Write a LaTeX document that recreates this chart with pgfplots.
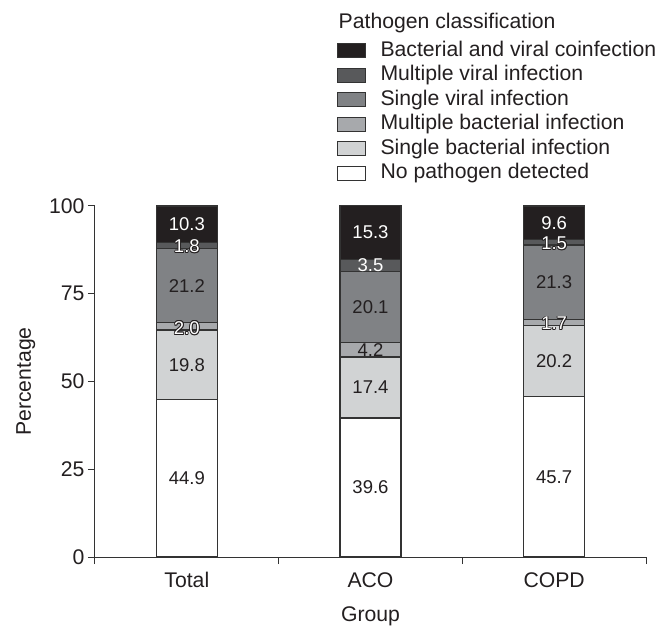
\documentclass[border=0pt]{standalone}
\usepackage{pgfplots}
\pgfplotsset{compat=1.18}
\usepackage{fontspec}
\setmainfont{Liberation Sans}
\definecolor{c1}{HTML}{FFFFFF}
\definecolor{c2}{HTML}{D1D3D4}
\definecolor{c3}{HTML}{A7A9AC}
\definecolor{c4}{HTML}{808285}
\definecolor{c5}{HTML}{58595B}
\definecolor{c6}{HTML}{231F20}
\definecolor{edge}{HTML}{333333}
\definecolor{txt}{HTML}{231F20}
\newcommand\outl[1]{%
\rlap{\kern0.8pt\textcolor{txt}{#1}}%
\rlap{\kern-0.8pt\textcolor{txt}{#1}}%
\rlap{\raisebox{0.8pt}{\textcolor{txt}{#1}}}%
\rlap{\raisebox{-0.8pt}{\textcolor{txt}{#1}}}%
\rlap{\kern0.6pt\raisebox{0.6pt}{\textcolor{txt}{#1}}}%
\rlap{\kern-0.6pt\raisebox{0.6pt}{\textcolor{txt}{#1}}}%
\rlap{\kern0.6pt\raisebox{-0.6pt}{\textcolor{txt}{#1}}}%
\rlap{\kern-0.6pt\raisebox{-0.6pt}{\textcolor{txt}{#1}}}%
\textcolor{white}{#1}}
\newcommand\bigf{\fontsize{21.2}{25}\selectfont}
\pgfplotsset{
  mylegend/.style={legend image code/.code={\draw[##1, line width=1pt] (0pt,-7pt) rectangle (28pt,7pt);}},
  segstyle/.style={draw=edge, line width=1.2pt},
}
\begin{document}
\begin{tikzpicture}
\begin{axis}[name=ax, scale only axis, width=551pt, height=351pt,
  ybar stacked, bar width=61pt,
  xmin=-0.5, xmax=2.5, ymin=0, ymax=100,
  axis x line*=bottom, axis y line*=left,
  axis line style={edge, line width=1pt},
  tick align=outside, major tick length=7pt,
  tick style={edge, line width=1pt},
  xtick={-0.5,0.5,1.5,2.5}, xticklabels={},
  extra x ticks={0,1,2}, extra x tick labels={Total,ACO,COPD},
  extra x tick style={major tick length=0pt, xticklabel style={yshift=-12pt}},
  ytick={0,25,50,75,100},
  ticklabel style={font=\bigf, text=txt},
  /pgf/number format/assume math mode=true,
  xlabel={Group}, ylabel={Percentage},
  label style={font=\bigf, text=txt},
  xlabel style={yshift=-5pt},
  ylabel style={yshift=7pt},
  clip=false,
  legend cell align=left, reverse legend,
  legend style={at={(rel axis cs:0.438,1.476)}, anchor=north west, draw=none, fill=none,
    inner sep=0pt, row sep=1pt,
    font=\bigf, text=txt,
    nodes={text height=15pt, text depth=4.5pt, inner sep=2pt},
    /tikz/every odd column/.append style={column sep=13pt}},
]
\addplot[fill=c1, segstyle, mylegend] coordinates {(0,44.9) (1,39.6) (2,45.7)};
\addlegendentry{No pathogen detected}
\addplot[fill=c2, segstyle, mylegend] coordinates {(0,19.8) (1,17.4) (2,20.2)};
\addlegendentry{Single bacterial infection}
\addplot[fill=c3, segstyle, mylegend] coordinates {(0,2.0) (1,4.2) (2,1.7)};
\addlegendentry{Multiple bacterial infection}
\addplot[fill=c4, segstyle, mylegend] coordinates {(0,21.2) (1,20.1) (2,21.3)};
\addlegendentry{Single viral infection}
\addplot[fill=c5, segstyle, mylegend] coordinates {(0,1.8) (1,3.5) (2,1.5)};
\addlegendentry{Multiple viral infection}
\addplot[fill=c6, segstyle, mylegend] coordinates {(0,10.3) (1,15.3) (2,9.6)};
\addlegendentry{Bacterial and viral coinfection}
\node[anchor=west, inner sep=0pt, font=\bigf, text=txt] at (rel axis cs:0.442,1.522) {Pathogen classification};
\end{axis}
\begin{axis}[scale only axis, width=551pt, height=351pt,
  xmin=-0.5, xmax=2.5, ymin=0, ymax=100, hide axis, clip=false,
  every node near coord/.append style={anchor=center, inner sep=0pt, font=\fontsize{18.5}{22}\selectfont},
]
\addplot[only marks, mark=*, mark size=0pt, mark options={draw=none, fill=none},
  point meta=explicit symbolic,
  nodes near coords={\textcolor{txt}{\pgfplotspointmeta}}] table[meta=l] {
x y l
0 22.45 44.9
0 54.8 19.8
0 77.3 21.2
1 19.8 39.6
1 48.3 17.4
1 59.1 4.2
1 71.05 20.1
2 22.85 45.7
2 55.8 20.2
2 78.25 21.3
};
\addplot[only marks, mark=*, mark size=0pt, mark options={draw=none, fill=none},
  point meta=explicit symbolic,
  nodes near coords={\textcolor{white}{\pgfplotspointmeta}}] table[meta=l] {
x y l
0 94.85 10.3
1 92.45 15.3
1 83.05 3.5
2 95.2 9.6
};
\addplot[only marks, mark=*, mark size=0pt, mark options={draw=none, fill=none},
  point meta=explicit symbolic,
  nodes near coords={\outl{\pgfplotspointmeta}}] table[meta=l] {
x y l
0 65.2 2.0
0 88.5 1.8
2 66.5 1.7
2 89.4 1.5
};
\end{axis}
\path ([shift={(-95pt,-66pt)}]ax.south west) rectangle ([shift={(566pt,557pt)}]ax.south west);
\end{tikzpicture}
\end{document}
